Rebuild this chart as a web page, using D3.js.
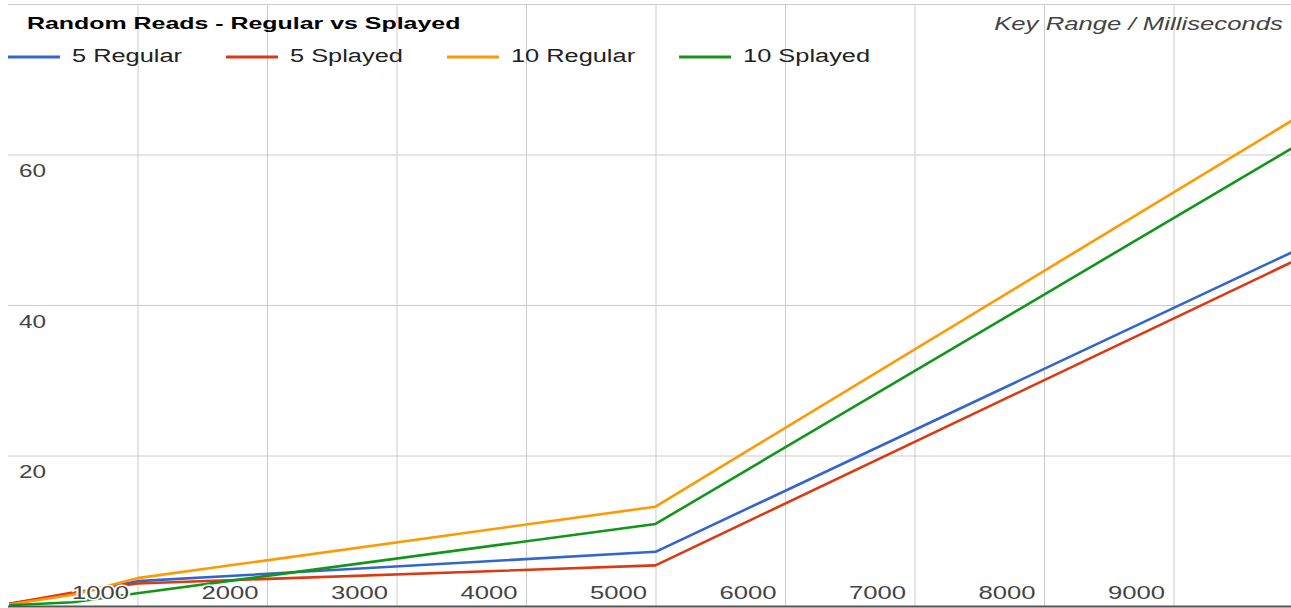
<!DOCTYPE html>
<html>
<head>
<meta charset="utf-8">
<script src="https://cdn.jsdelivr.net/npm/d3@7"></script>
<style>
  html, body { margin: 0; padding: 0; background: #fff; }
  svg { display: block; font-family: "Liberation Sans", Arial, sans-serif; }
</style>
</head>
<body>
<svg id="chart" width="1291" height="608"></svg>
<script>
// Key ranges tested (x) and read latency in milliseconds (y)
const keyRanges = [10, 500, 1000, 5000, 10000];
const seriesNames = ["5 Regular", "5 Splayed", "10 Regular", "10 Splayed"];
const seriesColors = ["#3366cc", "#dc3912", "#ff9900", "#109618"];
const regular5 = [0.3, 1.6, 3.3, 7.2, 47.7];
const splayed5 = [0.3, 1.8, 3.0, 5.4, 46.4];
const regular10 = [0.2, 1.5, 3.7, 13.2, 65.4];
const splayed10 = [0.1, 0.5, 1.7, 10.9, 61.7];
const xTicks = [1000, 2000, 3000, 4000, 5000, 6000, 7000, 8000, 9000];
const yTicks = [20, 40, 60, 80];
const yLabelTicks = [20, 40, 60];
const chartTitle = "Random Reads - Regular vs Splayed";
const axisTitle = "Key Range / Milliseconds";

const seriesValues = [regular5, splayed5, regular10, splayed10];

const W = 1291, H = 608;
const plotLeft = 8, plotTop = 4, plotBottom = 606;
const pxPerKey = 0.1295;

const svg = d3.select("#chart");

const x = d3.scaleLinear().domain([0, 10000]).range([plotLeft, plotLeft + 10000 * pxPerKey]);
const y = d3.scaleLinear().domain([0, 80]).range([plotBottom, plotTop]);

// widen text horizontally
function stretch(sel, k) {
  sel.each(function () {
    const w = this.getComputedTextLength();
    d3.select(this).attr("textLength", w * k).attr("lengthAdjust", "spacingAndGlyphs");
  });
}

// vertical grid
const gridX = svg.append("g")
  .attr("transform", `translate(0,${plotBottom})`)
  .call(d3.axisBottom(x).tickValues(xTicks).tickSize(-(plotBottom - plotTop)).tickSizeOuter(0).tickFormat(""));
gridX.select(".domain").remove();
gridX.selectAll("line").attr("stroke", "#cccccc").attr("stroke-width", 1);

// horizontal grid
const gridY = svg.append("g")
  .attr("transform", `translate(${plotLeft},0)`)
  .call(d3.axisLeft(y).tickValues(yTicks).tickSize(-(W - plotLeft)).tickSizeOuter(0).tickFormat(""));
gridY.select(".domain").remove();
gridY.selectAll("line").attr("stroke", "#cccccc").attr("stroke-width", 1);

// series lines
const line = d3.line()
  .x((d, i) => x(keyRanges[i]))
  .y(d => y(d));

svg.append("g")
  .selectAll("path")
  .data(seriesValues)
  .join("path")
  .attr("d", d => line(d))
  .attr("fill", "none")
  .attr("stroke", (d, i) => seriesColors[i])
  .attr("stroke-width", 2.6)
  .attr("stroke-linejoin", "round");

// baseline
svg.append("line")
  .attr("x1", plotLeft).attr("x2", W)
  .attr("y1", plotBottom + 0.5).attr("y2", plotBottom + 0.5)
  .attr("stroke", "#555").attr("stroke-width", 2);

// x tick labels
const labX = svg.append("g")
  .attr("transform", `translate(0,${plotBottom})`)
  .call(d3.axisBottom(x).tickValues(xTicks).tickSize(0).tickFormat(d3.format("d")));
labX.select(".domain").remove();
labX.selectAll("text")
  .attr("text-anchor", "end")
  .attr("x", -9)
  .attr("y", -7)
  .attr("dy", null)
  .attr("fill", "#444")
  .attr("font-size", 19)
  .attr("font-family", "Liberation Sans, Arial, sans-serif")
  .attr("stroke", "#fff").attr("stroke-width", 3).attr("paint-order", "stroke")
  .call(stretch, 1.35);

// y tick labels
const labY = svg.append("g")
  .attr("transform", `translate(${plotLeft},0)`)
  .call(d3.axisLeft(y).tickValues(yLabelTicks).tickSize(0));
labY.select(".domain").remove();
labY.selectAll("text")
  .attr("text-anchor", "start")
  .attr("x", 11)
  .attr("dy", 22)
  .attr("fill", "#444")
  .attr("font-size", 18)
  .attr("font-family", "Liberation Sans, Arial, sans-serif")
  .call(stretch, 1.35);

// title
svg.append("text")
  .attr("x", 27).attr("y", 29)
  .attr("font-size", 16.5).attr("font-weight", "bold")
  .attr("fill", "#000")
  .text(chartTitle)
  .call(stretch, 1.51);

// axis caption (top right)
svg.append("text")
  .attr("x", 1283).attr("y", 30)
  .attr("text-anchor", "end")
  .attr("font-size", 17.5).attr("font-style", "italic")
  .attr("fill", "#444")
  .text(axisTitle)
  .call(stretch, 1.47);

// legend
const legend = svg.append("g");
let lx = 8;
seriesNames.forEach((name, i) => {
  legend.append("line")
    .attr("x1", lx).attr("x2", lx + 52)
    .attr("y1", 57).attr("y2", 57)
    .attr("stroke", seriesColors[i]).attr("stroke-width", 3);
  const t = legend.append("text")
    .attr("x", lx + 64).attr("y", 62)
    .attr("font-size", 18)
    .attr("fill", "#222")
    .text(name)
    .call(stretch, 1.41);
  lx = lx + 64 + (+t.attr("textLength")) + 44;
});
</script>
</body>
</html>
